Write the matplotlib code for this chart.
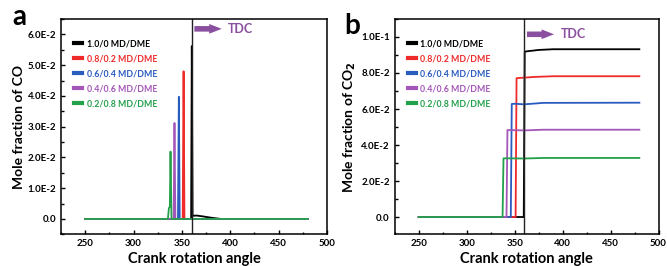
import matplotlib
matplotlib.use("Agg")
import matplotlib.pyplot as plt
from matplotlib.ticker import MultipleLocator, FuncFormatter
import math

plt.rcParams['font.family'] = ['Lato', 'DejaVu Sans']
plt.rcParams['font.weight'] = 'bold'

labels = ["1.0/0 MD/DME", "0.8/0.2 MD/DME", "0.6/0.4 MD/DME", "0.4/0.6 MD/DME", "0.2/0.8 MD/DME"]
colors = ["#000000", "#ee2a2a", "#2a5cc0", "#a457b8", "#23a04a"]

# CO mole fraction (panel a)
co_x_black = [250, 358.5, 359.5, 360.2, 361, 365, 372, 380, 390, 480]
co_y_black = [0, 0, 0.0, 0.0562, 0.0010, 0.0011, 0.0008, 0.0004, 0.0, 0]
co_x_red = [250, 350.8, 351.7, 352.6, 480]
co_y_red = [0, 0, 0.0480, 0, 0]
co_x_blue = [250, 345.9, 346.8, 347.7, 480]
co_y_blue = [0, 0, 0.0397, 0, 0]
co_x_purple = [250, 341.4, 342.3, 343.2, 480]
co_y_purple = [0, 0, 0.0312, 0, 0]
co_x_green = [250, 335.5, 336.5, 337.5, 338.2, 339.2, 480]
co_y_green = [0, 0, 0.0035, 0.0040, 0.0219, 0, 0]

# CO2 mole fraction (panel b)
co2_x_black = [250, 359.5, 360.5, 362, 375, 390, 480]
co2_y_black = [0, 0, 0.0918, 0.0920, 0.0928, 0.0932, 0.0932]
co2_x_red = [250, 351.0, 352.0, 354, 370, 390, 480]
co2_y_red = [0, 0, 0.0771, 0.0772, 0.0778, 0.0782, 0.0782]
co2_x_blue = [250, 346.0, 347.0, 350, 360, 380, 480]
co2_y_blue = [0, 0, 0.0628, 0.0629, 0.0626, 0.0634, 0.0635]
co2_x_purple = [250, 341.5, 342.5, 345, 360, 380, 480]
co2_y_purple = [0, 0, 0.0483, 0.0483, 0.0481, 0.0485, 0.0485]
co2_x_green = [250, 337.4, 338.4, 341, 360, 380, 480]
co2_y_green = [0, 0, 0.0326, 0.0326, 0.0325, 0.0328, 0.0328]

co_series = [(co_x_black, co_y_black), (co_x_red, co_y_red), (co_x_blue, co_y_blue),
             (co_x_purple, co_y_purple), (co_x_green, co_y_green)]
co2_series = [(co2_x_black, co2_y_black), (co2_x_red, co2_y_red), (co2_x_blue, co2_y_blue),
              (co2_x_purple, co2_y_purple), (co2_x_green, co2_y_green)]

x_ticks = [250, 300, 350, 400, 450, 500]
tdc_angle = 360
arrow_color = "#8a4f9e"


def sci_fmt(v, pos):
    if abs(v) < 1e-12:
        return "0.0"
    e = int(math.floor(math.log10(abs(v)) + 1e-9))
    m = v / 10 ** e
    return "%.1fE%d" % (m, e)


fig = plt.figure(figsize=(6.67, 2.66), dpi=100)
ax_a = fig.add_axes([0.0915, 0.1192, 0.3988, 0.8094])
ax_b = fig.add_axes([0.5918, 0.1192, 0.3955, 0.8094])

panels = [
    (ax_a, co_series, (-0.005, 0.065), 0.01, "Mole fraction of CO", 0.0618),
    (ax_b, co2_series, (-0.0096, 0.110), 0.02, "Mole fraction of CO$_\\mathbf{2}$", 0.1015),
]

for ax, series, ylim, ystep, ylabel, arrow_y in panels:
    for (xs, ys), c, lab in zip(series, colors, labels):
        ax.plot(xs, ys, color=c, lw=1.3, label=lab)
    ax.axvline(tdc_angle, color="#222222", lw=1.0)
    ax.set_xlim(225, 500)
    ax.set_ylim(*ylim)
    ax.set_xticks(x_ticks)
    ax.xaxis.set_minor_locator(MultipleLocator(25))
    ax.yaxis.set_major_locator(MultipleLocator(ystep))
    ax.yaxis.set_minor_locator(MultipleLocator(ystep / 2))
    ax.yaxis.set_major_formatter(FuncFormatter(sci_fmt))
    ax.tick_params(which="both", direction="in", labelsize=7, width=1.0)
    ax.tick_params(which="major", length=3)
    ax.tick_params(which="minor", length=1.8)
    for lbl in ax.get_xticklabels() + ax.get_yticklabels():
        lbl.set_fontweight("bold")
    for sp in ax.spines.values():
        sp.set_linewidth(1.1)
    ax.set_xlabel("Crank rotation angle", fontsize=10.5, fontweight="bold", labelpad=3)
    ax.set_ylabel(ylabel, fontsize=10, fontweight="bold", labelpad=2)
    leg = ax.legend(loc="upper left", bbox_to_anchor=(0.03, 0.93), frameon=False,
                    fontsize=6.3, handlelength=0.9, handletextpad=0.5, labelspacing=0.68,
                    borderaxespad=0.2)
    for line, text, c in zip(leg.get_lines(), leg.get_texts(), colors):
        line.set_linewidth(3)
        text.set_color(c)
        text.set_fontweight("bold")
    ax.annotate("", xy=(394, arrow_y), xytext=(tdc_angle, arrow_y),
                arrowprops=dict(arrowstyle="simple,head_width=0.7,head_length=0.9,tail_width=0.4",
                                color=arrow_color, lw=0))
    ax.text(398, arrow_y, "TDC", color=arrow_color, fontsize=9, fontweight="bold",
            va="center", ha="left")

fig.text(12 / 667, 1 - 25 / 266, "a", fontsize=20, fontweight="bold", va="baseline", ha="left")
fig.text(344 / 667, 1 - 34 / 266, "b", fontsize=20, fontweight="bold", va="baseline", ha="left")

fig.savefig("out.png", dpi=100)
